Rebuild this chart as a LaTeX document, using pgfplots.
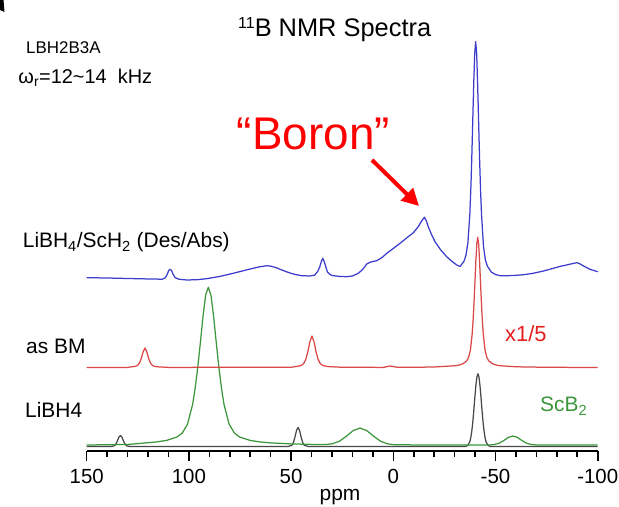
\documentclass[border=0pt]{standalone}
\usepackage{pgfplots}
\pgfplotsset{compat=1.18}
\usetikzlibrary{arrows.meta}
\usepackage{fontspec}
\setmainfont{Liberation Sans}
\definecolor{specblue}{RGB}{60,60,205}
\definecolor{specred}{RGB}{218,72,72}
\definecolor{specgreen}{RGB}{60,150,60}
\definecolor{specblack}{RGB}{40,40,40}
\definecolor{labelred}{RGB}{230,30,30}
\newcommand{\fs}[1]{\fontsize{#1}{#1}\selectfont}

\begin{document}
\begin{tikzpicture}[x=1bp,y=1bp]
\path[use as bounding box] (0,0) rectangle (619,507);
\begin{axis}[
  at={(86.7bp,56bp)}, anchor=south west,
  scale only axis, width=511bp, height=451bp,
  xmin=-100, xmax=150, ymin=0, ymax=451, x dir=reverse,
  axis x line=bottom, axis y line=none,
  x axis line style={-, line width=2.6bp},
  xtick={-100,-50,0,50,100,150}, minor x tick num=4,
  tick align=outside,
  major tick length=10bp, minor tick length=6bp,
  every tick/.style={black, line width=1.6bp},
  /pgf/number format/assume math mode=true,
  xticklabel style={font=\fs{20.5}, yshift=-5bp},
  clip=false,
  every axis plot/.append style={line width=1.25bp, line join=round},
]
% LiBH4 reference
\addplot[specblack!85] coordinates {
(150,4.5) (138,4.5) (136.5,5.2) (135.75,6.8) (135,10) (134.25,13.8) (133.5,15.5)
(132.75,13.8) (132,10) (131.25,6.8) (130.5,5.2) (129,4.5)
(51.5,4.5) (49.6,5.7) (48.85,8.5) (48.1,14) (47.35,20.5) (46.6,23.5) (45.85,20.5)
(45.1,14) (44.35,8.5) (43.6,5.7) (41.5,4.5)
(-34,4.5) (-35.4,4.6) (-36.4,5.5) (-37.4,9) (-37.9,13.2) (-38.4,19.8) (-38.9,29.1)
(-39.4,40.9) (-39.9,53.7) (-40.4,65.6) (-40.9,74.1) (-41.4,77.2) (-41.9,74.1)
(-42.4,65.6) (-42.9,53.7) (-43.4,40.9) (-43.9,29.1) (-44.4,19.8) (-44.9,13.2)
(-45.4,9) (-46.4,5.5) (-47.4,4.6) (-49,4.5) (-100,4.5)
};
% ScB2 reference
\addplot[specgreen] coordinates {
(150,6) (130,6.5) (121.1,8.1) (116,9) (110.9,10.6) (105.8,14) (103.25,18) (100.7,26.7)
(98.15,46.8) (96.9,63.4) (95.6,84.9) (94.3,110.1) (93.05,135.3) (91.8,155.8) (90.5,163.7)
(89.2,155.8) (87.95,135.3) (86.7,110.1) (85.4,84.9) (84.1,63.4) (82.85,46.8) (80.3,26.7)
(77.75,18) (75.2,14) (70.1,10.6) (65,9) (59.9,8.1) (50,7.1) (40,6.6) (33.3,6.4)
(29.9,7.2) (26.5,9.6) (23.1,14.5) (19.7,20.3) (16.3,23) (12.9,20.3) (9.5,14.5)
(6.1,9.6) (2.7,7.1) (-0.7,6.2) (-20,6) (-47.5,6.1) (-49.7,6.6) (-51.9,7.9)
(-54.1,10.5) (-56.3,13.6) (-58.5,15) (-60.7,13.6) (-62.9,10.5) (-65.1,7.9)
(-67.3,6.6) (-69.5,6.1) (-100,6)
};
% as ball-milled (x1/5)
\addplot[specred] coordinates {
(150,83.5) (130,83.6) (128.3,84.1) (126.6,84.5) (125.75,85) (124.9,86.05) (124.05,88.55)
(123.2,93.25) (122.35,99.5) (121.5,103) (120.65,99.5) (119.8,93.25) (118.95,88.55)
(118.1,86.05) (117.25,85) (116.4,84.5) (114.7,84.1) (110,83.6)
(50,83.7) (47.8,84.4) (45.8,85.1) (44.8,85.9) (43.8,87.6) (42.8,91.7) (41.8,99.25)
(40.8,109.3) (39.8,115) (38.8,109.3) (37.8,99.25) (36.8,91.7) (35.8,87.6) (34.8,85.9)
(33.8,85.1) (31.8,84.4) (25,83.7)
(5,83.6) (2.5,84.6) (1.6,85) (0.5,84.6) (-2,83.7) (-10,83.7) (-20,84)
(-30.5,85.3) (-32.3,86) (-34.1,87.3) (-35.9,90.1) (-36.8,93.4) (-37.7,100.6)
(-38.6,117.2) (-39.05,130.9) (-39.5,148.6) (-39.95,169.4) (-40.4,190.3) (-40.85,207.2)
(-41.3,213.7) (-41.75,207.2) (-42.2,190.3) (-42.65,169.4) (-43.1,148.6) (-43.55,130.9)
(-44,117.2) (-44.9,100.6) (-45.8,93.4) (-46.7,90.1) (-48.5,87.3) (-50.3,86)
(-52.1,85.3) (-60,84.2) (-75,83.7) (-100,83.5)
};
% LiBH4/ScH2 after desorption/absorption
\addplot[specblue] coordinates {
(150,173.3) (140,173) (130,172.5) (119,172) (113,171.8) (111.5,173.3) (110.5,177)
(109.9,180.5) (109.2,181.7) (108.5,180.5) (107.8,177) (106.8,173.5) (105,171.8)
(101,171) (96,171.3) (91.3,172.3) (85,174.5) (78.3,177.7) (72,181) (65.2,184.3)
(62,185.2) (60.3,185) (57.5,183.5) (55.4,181.7) (52,179) (48.9,177) (45,175.3)
(40.8,175) (38.5,175.8) (37,179.5) (36,184) (35.2,189.5) (34.5,192.7) (33.8,189.5)
(33,184) (32.2,179) (31,176.5) (30,175.5) (26,174.5) (22.8,174.3) (20,175)
(17.1,177.7) (15,181.5) (13,187) (11,189) (8.1,190.3) (5.5,193.5) (3.2,197.7)
(0,202.5) (-3.3,207.7) (-6.5,213) (-9.8,218.3) (-12.2,224.3) (-13.7,229.5)
(-15.2,233.7) (-16.2,230) (-17.1,224.3) (-18.7,216.5) (-20.4,209.3) (-23.2,201)
(-26.1,194.3) (-28.5,190) (-31,186) (-32.7,184.5) (-34.6,189.8) (-35.55,195.7)
(-36.5,208.4) (-37.45,237.2) (-37.925,261.6) (-38.4,293.2) (-38.875,330.3)
(-39.35,367.5) (-39.825,397.7) (-40.3,409.3) (-40.775,397.7) (-41.25,367.5)
(-41.725,330.3) (-42.2,293.2) (-42.675,261.6) (-43.15,237.2) (-44.1,205) (-45.05,191)
(-46,185) (-47.9,179) (-50,176.5) (-52.2,175.3) (-56,175.3) (-60.4,175.7)
(-64.5,176.5) (-68.5,177.7) (-73.5,180) (-78.3,182.7) (-82,184.8) (-84.8,186)
(-87.5,187.3) (-89.7,188.3) (-91,187.5) (-92.2,186) (-94,184) (-96.2,181.7)
(-100,179.3)
};
\end{axis}

% panel letter fragment
\fill[black] (0,507) -- (3.5,507) -- (4.5,495) -- (0,497) -- cycle;

% title and run info
\node[anchor=base west, inner sep=0] at (238,470.3)
  {\fs{25.5}\raisebox{8.5bp}{\fs{16}11}B NMR Spectra};
\node[anchor=base west, inner sep=0] at (26,453.7) {\fs{17}LBH2B3A};
\node[anchor=base west, inner sep=0] at (18.3,423.7)
  {\fs{20}ω\textsubscript{r}=12\textasciitilde 14\ \ kHz};

% annotation
\node[anchor=base east, inner sep=0, text=red] at (390,357) {\fs{46}“Boron”};
\draw[red, line width=4bp, -{Triangle[length=17bp,width=17bp]}] (372,347) -- (419,301);

% trace labels
\node[anchor=base west, inner sep=0] at (22.7,259)
  {\fs{21}LiBH\textsubscript{4}/ScH\textsubscript{2} (Des/Abs)};
\node[anchor=base west, inner sep=0] at (26,153) {\fs{21}as BM};
\node[anchor=base west, inner sep=0] at (25,89) {\fs{21}LiBH4};
\node[anchor=base west, inner sep=0, text=labelred] at (505,165.3) {\fs{22}x1/5};
\node[anchor=base west, inner sep=0, text=specgreen] at (540,95) {\fs{21}ScB\textsubscript{2}};
\node[anchor=base, inner sep=0] at (340,6) {\fs{21}ppm};
\end{tikzpicture}
\end{document}
